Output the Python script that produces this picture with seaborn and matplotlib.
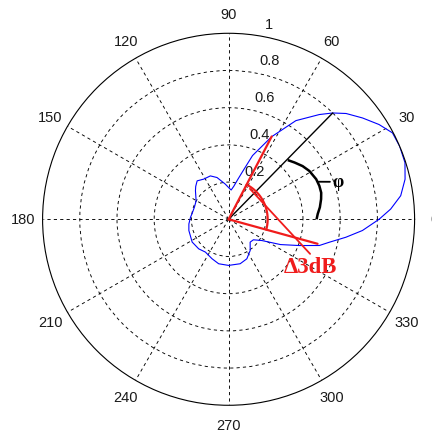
import numpy as np
import pandas as pd
import seaborn as sns
import matplotlib.pyplot as plt
from matplotlib.transforms import ScaledTranslation

# radiation pattern (angle in degrees, normalised gain)
pattern_deg = [0, 3.6, 7.8, 12.8, 17.8, 23.1, 27.8, 32.2, 37.1, 42, 45.6, 49.1, 55.7,
               62.5, 69.4, 73.5, 77, 81, 85, 88, 95.4, 105.5, 112.8, 121.8, 129.3,
               135, 139.3, 150.3, 160, 170, 176.9, 186.7, 195.8, 212, 224.7, 234.7,
               247.2, 257.4, 270, 284.6, 294.8, 304.7, 313.3, 320.4, 327.4, 334,
               339.6, 343.9, 347.2, 351.3, 355.2, 360]
pattern_r = [0.809, 0.873, 0.934, 0.973, 0.996, 1.0, 0.996, 0.956, 0.903, 0.85, 0.80,
             0.745, 0.642, 0.50, 0.366, 0.27, 0.22, 0.18, 0.158, 0.165, 0.19, 0.233,
             0.253, 0.254, 0.267, 0.25, 0.235, 0.201, 0.195, 0.198, 0.205, 0.215,
             0.222, 0.231, 0.226, 0.216, 0.23, 0.245, 0.248, 0.247, 0.234, 0.204,
             0.169, 0.173, 0.212, 0.31, 0.405, 0.508, 0.556, 0.638, 0.722, 0.809]

# annotations
phi_dir = (45.6, 0.80)                 # main beam direction line
half_power = [(62.5, 0.502), (344.6, 0.496)]   # -3 dB points
hp_arc_r = 0.21
leader = [(55, 0.20), (337, 0.476)]
phi_arc_deg = [45, 40.7, 35.7, 30.9, 24.6, 20.2, 16, 12.3, 7.5, 3.4, 0]
phi_arc_r = [0.45, 0.468, 0.49, 0.506, 0.518, 0.52, 0.518, 0.509, 0.495, 0.48, 0.473]
phi_tick = [(22.7, 0.523), (20.3, 0.581)]
phi_label = (18.8, 0.623)
d3db_label = (330.1, 0.51)

theta_ticks = list(range(0, 360, 30))
r_ticks = [0.2, 0.4, 0.6, 0.8, 1.0]
r_tick_labels = ['0.2', '0.4', '0.6', '0.8', '1']

sns.set_style('white')
plt.rcParams['font.family'] = ['Liberation Sans', 'DejaVu Sans']
plt.rcParams['lines.scale_dashes'] = False

fig = plt.figure(figsize=(4.32, 4.35), dpi=100)
ax = fig.add_axes([0.0986, 0.066, 0.8611, 0.8552], projection='polar')
ax.set_facecolor('white')

# grid
ax.set_ylim(0, 1)
ax.set_xticks(np.deg2rad(theta_ticks))
ax.set_yticks(r_ticks[:-1])
ax.set_xticklabels([])
ax.set_yticklabels([])
ax.grid(True, color='black', linestyle=(0, (2.3, 2.3)), linewidth=0.65)
ax.spines['polar'].set_color('black')
ax.spines['polar'].set_linewidth(0.8)
ax.tick_params(length=0)

df = pd.DataFrame({'theta': np.deg2rad(pattern_deg), 'r': pattern_r})
sns.lineplot(data=df, x='theta', y='r', sort=False, estimator=None, ax=ax,
             color='#0000ff', linewidth=0.8)
ax.set_xlabel('')
ax.set_ylabel('')

# main direction line and phi arc
ax.plot(np.deg2rad([0, phi_dir[0]]), [0, phi_dir[1]], color='black', lw=1.0, zorder=4)
ax.plot(np.deg2rad(phi_arc_deg), phi_arc_r, color='black', lw=1.8, zorder=4,
        solid_capstyle='butt')
ax.plot(np.deg2rad([p[0] for p in phi_tick]), [p[1] for p in phi_tick],
        color='black', lw=1.3, zorder=4)
ax.text(np.deg2rad(phi_label[0]), phi_label[1], 'φ', ha='center', va='center',
        family=['Liberation Serif', 'DejaVu Serif'], fontsize=13, fontweight='bold',
        color='black', zorder=6)

# half power beam width
red = '#f01c1c'
for a, r in half_power:
    ax.plot(np.deg2rad([0, a]), [0, r], color=red, lw=1.6, zorder=5)
arc_t = np.linspace(half_power[0][0], half_power[1][0] - 360, 40)
ax.plot(np.deg2rad(arc_t), np.full_like(arc_t, hp_arc_r), color=red, lw=1.6, zorder=5)
ax.plot(np.deg2rad([p[0] for p in leader]), [p[1] for p in leader], color=red,
        lw=1.3, zorder=5)
ax.text(np.deg2rad(d3db_label[0]), d3db_label[1], 'Δ3dB', ha='center', va='center',
        family=['Liberation Serif', 'DejaVu Serif'], fontsize=16.5, fontweight='bold',
        color=red, zorder=6)

# angle labels
for t in theta_ticks:
    ax.text(np.deg2rad(t), 1.105, str(t), ha='center', va='center', fontsize=10.5,
            color='#1a1a1a', clip_on=False)

# radial labels
off = ax.transData + ScaledTranslation(10.5 / 100, 11.5 / 100, fig.dpi_scale_trans)
for r, lab in zip(r_ticks, r_tick_labels):
    ax.text(np.deg2rad(82), r, lab, ha='left', va='center', fontsize=10.5,
            color='#1a1a1a', transform=off, clip_on=False)

fig.savefig('out.png', dpi=100)
